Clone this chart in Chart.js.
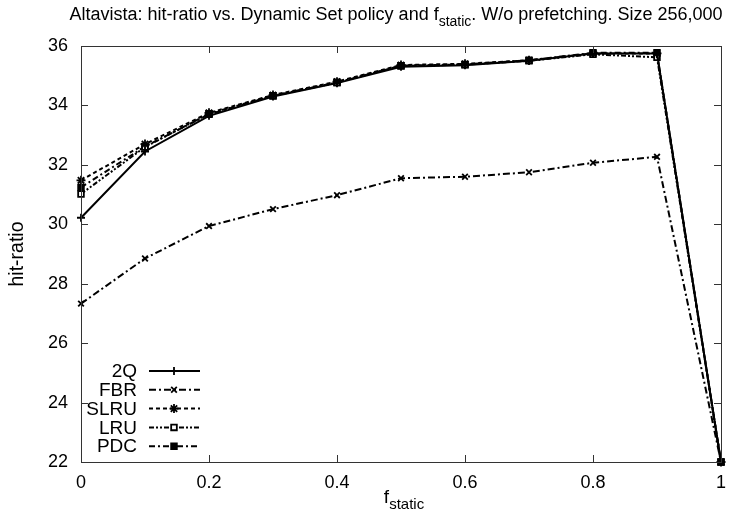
<!DOCTYPE html>
<html>
<head>
<meta charset="utf-8">
<script src="https://cdn.jsdelivr.net/npm/chart.js@4"></script>
<style>
  html, body { margin: 0; padding: 0; background: #fff; }
  #wrap { width: 746px; height: 520px; }
</style>
</head>
<body>
<div id="wrap"><canvas id="chart" width="746" height="520"></canvas></div>
<script>
// values
const fStatic = [0, 0.1, 0.2, 0.3, 0.4, 0.5, 0.6, 0.7, 0.8, 0.9, 1];
const q2   = [30.22, 32.45, 33.65, 34.30, 34.75, 35.30, 35.35, 35.50, 35.75, 35.75, 22];
const fbr  = [27.33, 28.85, 29.94, 30.51, 30.98, 31.55, 31.60, 31.75, 32.07, 32.27, 22];
const slru = [31.48, 32.70, 33.75, 34.35, 34.80, 35.36, 35.40, 35.52, 35.75, 35.75, 22];
const lru  = [31.02, 32.60, 33.72, 34.33, 34.77, 35.33, 35.37, 35.50, 35.72, 35.62, 22];
const pdc  = [31.24, 32.62, 33.70, 34.32, 34.77, 35.34, 35.38, 35.52, 35.77, 35.77, 22];
const xTicks = [0, 0.2, 0.4, 0.6, 0.8, 1];
const yTicks = [22, 24, 26, 28, 30, 32, 34, 36];

const FONT = "'Liberation Sans', Arial, Helvetica, sans-serif";

function pts(ys) {
    return fStatic.map((x, i) => ({x: x, y: ys[i]}));
}

function series(label, ys, dash, style, fill, radius) {
    return {
        label: label,
        data: pts(ys),
        borderColor: "#000",
        borderWidth: 2,
        borderDash: dash,
        pointStyle: style,
        pointRadius: radius,
        pointBorderColor: "#000",
        pointBorderWidth: 1.8,
        pointBackgroundColor: fill,
        fill: false,
        tension: 0,
        clip: false
    };
}

// gnuplot-like frame with inward, mirrored ticks
const framePlugin = {
    id: "frame",
    afterDatasetsDraw(chart) {
        const ctx = chart.ctx;
        const a = chart.chartArea;
        const xs = chart.scales.x, ys = chart.scales.y;
        ctx.save();
        ctx.strokeStyle = "#333";
        ctx.lineWidth = 1;
        ctx.strokeRect(a.left + 0.5, a.top + 0.5, a.right - a.left, a.bottom - a.top);
        ctx.beginPath();
        xTicks.forEach(v => {
            const px = Math.round(xs.getPixelForValue(v)) + 0.5;
            ctx.moveTo(px, a.bottom); ctx.lineTo(px, a.bottom - 7);
            ctx.moveTo(px, a.top); ctx.lineTo(px, a.top + 7);
        });
        yTicks.forEach(v => {
            const py = Math.round(ys.getPixelForValue(v)) + 0.5;
            ctx.moveTo(a.left, py); ctx.lineTo(a.left + 7, py);
            ctx.moveTo(a.right, py); ctx.lineTo(a.right - 7, py);
        });
        ctx.stroke();
        ctx.restore();
    }
};

// text with a subscript part: [main, sub, rest]
function subText(ctx, parts, x, y, size, align) {
    const subSize = Math.round(size * 0.78);
    ctx.font = size + "px " + FONT;
    const w0 = ctx.measureText(parts[0]).width;
    const w2 = ctx.measureText(parts[2] || "").width;
    ctx.font = subSize + "px " + FONT;
    const w1 = ctx.measureText(parts[1]).width;
    const total = w0 + w1 + w2;
    let sx = align === "center" ? x - total / 2 : x;
    ctx.textAlign = "left";
    ctx.textBaseline = "alphabetic";
    ctx.font = size + "px " + FONT;
    ctx.fillText(parts[0], sx, y);
    ctx.font = subSize + "px " + FONT;
    ctx.fillText(parts[1], sx + w0, y + size * 0.33);
    ctx.font = size + "px " + FONT;
    if (parts[2]) ctx.fillText(parts[2], sx + w0 + w1, y);
}

const textPlugin = {
    id: "texts",
    afterDraw(chart) {
        const ctx = chart.ctx;
        const a = chart.chartArea;
        ctx.save();
        ctx.fillStyle = "#000";
        subText(ctx, ["Altavista: hit-ratio vs. Dynamic Set policy and f", "static",
            ". W/o prefetching. Size 256,000"], 396, 20, 18, "center");
        subText(ctx, ["f", "static", ""], (a.left + a.right) / 2 + 3, 503, 19, "center");
        ctx.translate(18, (a.top + a.bottom) / 2);
        ctx.rotate(-Math.PI / 2);
        ctx.font = "19.5px " + FONT;
        ctx.textAlign = "center";
        ctx.textBaseline = "middle";
        ctx.fillText("hit-ratio", 0, 0);
        ctx.restore();

        // key, gnuplot style: label then sample
        ctx.save();
        chart.data.datasets.forEach((ds, i) => {
            const y = 371 + i * 18.8;
            ctx.font = "19px " + FONT;
            ctx.fillStyle = "#000";
            ctx.textAlign = "right";
            ctx.textBaseline = "middle";
            ctx.fillText(ds.label, 137, y + 1);
            ctx.strokeStyle = "#000";
            ctx.lineWidth = ds.borderWidth;
            ctx.setLineDash(ds.borderDash);
            ctx.beginPath();
            ctx.moveTo(149, y); ctx.lineTo(200, y);
            ctx.stroke();
            ctx.setLineDash([]);
            if (Chart.helpers && Chart.helpers.drawPoint) {
                ctx.fillStyle = ds.pointBackgroundColor;
                ctx.lineWidth = ds.pointBorderWidth;
                Chart.helpers.drawPoint(ctx, {
                    pointStyle: ds.pointStyle,
                    radius: ds.pointRadius,
                    rotation: 0,
                    borderWidth: ds.pointBorderWidth
                }, 174, y);
            }
        });
        ctx.restore();
    }
};

new Chart("chart", {
    type: "line",
    data: {
        datasets: [
            series("2Q", q2, [], "cross", "#000", 4),
            series("FBR", fbr, [7, 3, 2, 3], "crossRot", "#000", 4),
            series("SLRU", slru, [4, 3], "star", "#000", 4.5),
            series("LRU", lru, [5, 2, 2, 2, 2, 2], "rect", "#fff", 4),
            series("PDC", pdc, [6, 3, 2, 3], "rect", "#000", 4)
        ]
    },
    options: {
        responsive: false,
        animation: false,
        layout: {padding: {top: 46, right: 25, left: 0, bottom: 0}},
        plugins: {
            legend: {display: false},
            title: {display: false},
            tooltip: {enabled: false}
        },
        scales: {
            x: {
                type: "linear",
                min: 0,
                max: 1,
                afterFit(scale) { scale.height = 58; },
                afterBuildTicks(scale) { scale.ticks = xTicks.map(v => ({value: v})); },
                ticks: {
                    color: "#000",
                    padding: 10,
                    font: {family: FONT, size: 18},
                    callback: v => String(v)
                },
                grid: {display: false, drawTicks: false},
                border: {display: false}
            },
            y: {
                min: 22,
                max: 36,
                afterFit(scale) { scale.width = 81; },
                afterBuildTicks(scale) { scale.ticks = yTicks.map(v => ({value: v})); },
                ticks: {
                    color: "#000",
                    padding: 13,
                    font: {family: FONT, size: 18},
                    callback: v => String(v)
                },
                grid: {display: false, drawTicks: false},
                border: {display: false}
            }
        }
    },
    plugins: [framePlugin, textPlugin]
});
</script>
</body>
</html>
